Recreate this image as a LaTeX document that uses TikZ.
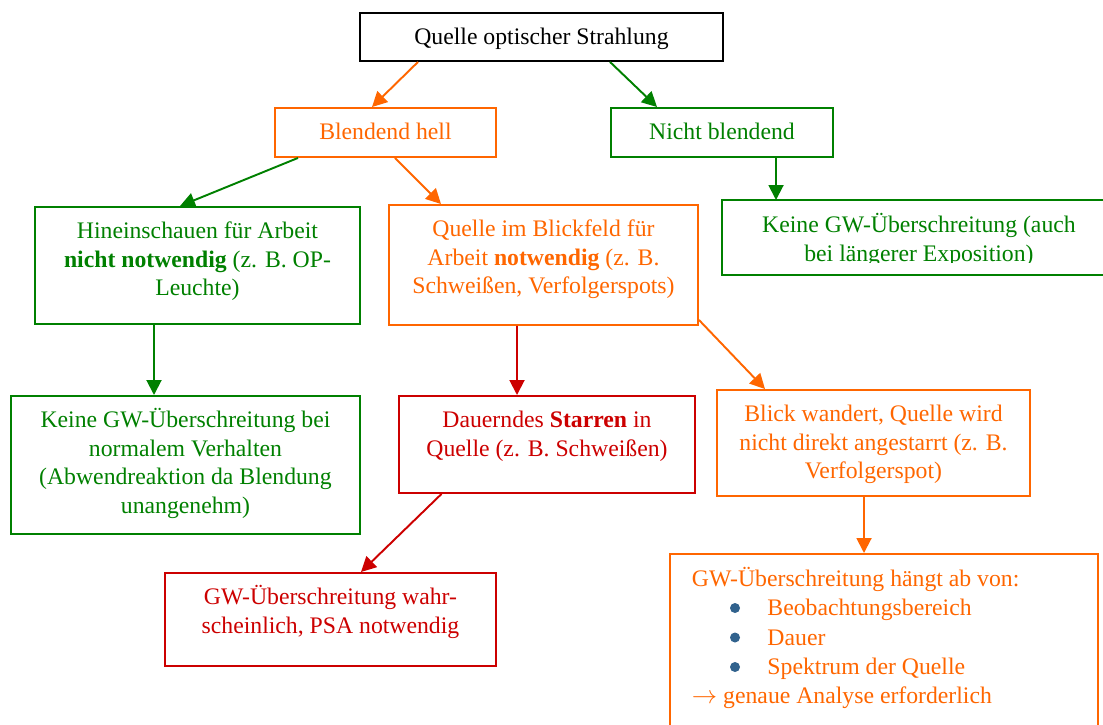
\documentclass[tikz,border=0pt]{standalone}
\usepackage{fontspec}
\setmainfont{Liberation Serif}
\usetikzlibrary{arrows.meta}

\definecolor{orangeton}{RGB}{255,102,0}
\definecolor{gruenton}{RGB}{0,128,0}
\definecolor{rotton}{RGB}{204,0,0}
\definecolor{punktblau}{RGB}{49,98,141}

% text box: width, height, text (first baseline fixed below the top edge)
\newcommand{\kastentext}[3]{\parbox[t][#2][t]{#1}{\lineskiplimit=-10pt\centering\rule{0pt}{18.1pt}#3}}
\newcommand{\einzug}{\hspace*{1.95cm}}

\tikzset{
    kasten/.style={draw, line width=1.1pt, inner sep=0pt, anchor=north west,
        font=\fontsize{13.5}{16.2}\selectfont},
    pfeil/.style={-{Triangle[length=0.3cm,width=0.3cm]}, line width=1.1pt}
}

\begin{document}
\begin{tikzpicture}
        \useasboundingbox (0,0) rectangle (22.06,-14.48);
        \clip (0,0) rectangle (22.06,-14.48);

        \node[kasten,draw=black] (quelle) at (7.18,-0.24) {\kastentext{7.26cm}{0.96cm}{Quelle optischer Strahlung}};
        \node[kasten,draw=orangeton,text=orangeton] (blendend) at (5.48,-2.14) {\kastentext{4.42cm}{0.98cm}{Blendend hell}};
        \node[kasten,draw=gruenton,text=gruenton] (nicht) at (12.2,-2.14) {\kastentext{4.44cm}{0.98cm}{Nicht blendend}};

        \node[kasten,draw=gruenton,text=gruenton] (hinein) at (0.68,-4.12) {\kastentext{6.5cm}{2.34cm}{Hineinschauen für Arbeit\\\textbf{nicht notwendig} (z. B. OP-\\Leuchte)}};
        \node[kasten,draw=orangeton,text=orangeton] (blickfeld) at (7.76,-4.08) {\kastentext{6.18cm}{2.4cm}{Quelle im Blickfeld für\\Arbeit \textbf{notwendig} (z. B.\\Schweißen, Verfolgerspots)}};
        % text of this box is cut off at the second line
        \begin{scope}
            \clip (14.44,-4.0) rectangle (22.28,-5.24);
            \node[kasten,draw=none,text=gruenton] (keine1) at (14.44,-4.0) {\kastentext{7.84cm}{1.46cm}{Keine GW-Überschreitung (auch\\bei längerer Exposition)}};
        \end{scope}
        \draw[gruenton,line width=1.1pt] (keine1.north west) rectangle (keine1.south east);

        \node[kasten,draw=gruenton,text=gruenton] (keine2) at (0.2,-7.9) {\kastentext{6.98cm}{2.76cm}{Keine GW-Überschreitung bei\\normalem Verhalten\\(Abwendreaktion da Blendung\\unangenehm)}};
        \node[kasten,draw=rotton,text=rotton] (dauernd) at (7.96,-7.9) {\kastentext{5.92cm}{1.94cm}{Dauerndes \textbf{Starren} in\\Quelle (z. B. Schweißen)}};
        \node[kasten,draw=orangeton,text=orangeton] (blick) at (14.32,-7.78) {\kastentext{6.26cm}{2.12cm}{Blick wandert, Quelle wird\\nicht direkt angestarrt (z. B.\\Verfolgerspot)}};

        \node[kasten,draw=rotton,text=rotton] (wahr) at (3.28,-11.44) {\kastentext{6.62cm}{1.86cm}{GW-Überschreitung wahr-\\scheinlich, PSA notwendig}};
        \node[kasten,draw=orangeton,text=orangeton] (haengt) at (13.38,-11.06) {\parbox[t][4cm][t]{8.56cm}{\fontsize{13.5}{16.6}\selectfont\lineskiplimit=-10pt\raggedright\rule{0pt}{18.6pt}%
            \hspace*{0.44cm}GW-Überschreitung hängt ab von:\\
            \einzug Beobachtungsbereich\\
            \einzug Dauer\\
            \einzug Spektrum der Quelle\\
            \hspace*{0.44cm}$\rightarrow$ genaue Analyse erforderlich}};
        % list bullets
        \foreach \dy in {1.1,1.69,2.28}
            \fill[punktblau] ([xshift=1.32cm,yshift=-\dy cm]haengt.north west) circle (0.1cm);

        \draw[pfeil,orangeton] ([xshift=1.18cm]quelle.south west) -- ([xshift=1.96cm]blendend.north west);
        \draw[pfeil,gruenton] ([xshift=5.02cm]quelle.south west) -- ([xshift=0.94cm]nicht.north west);
        \draw[pfeil,gruenton] ([xshift=0.48cm]blendend.south west) -- ([xshift=2.92cm]hinein.north west);
        \draw[pfeil,orangeton] ([xshift=2.42cm]blendend.south west) -- ([xshift=1.06cm]blickfeld.north west);
        \draw[pfeil,gruenton] ([xshift=3.32cm]nicht.south west) -- ([xshift=1.08cm]keine1.north west);
        \draw[pfeil,gruenton] ([xshift=2.4cm]hinein.south west) -- ([xshift=2.88cm]keine2.north west);
        \draw[pfeil,rotton] ([xshift=2.58cm]blickfeld.south west) -- ([xshift=2.38cm]dauernd.north west);
        \draw[pfeil,orangeton] ([yshift=0.12cm]blickfeld.south east) -- ([xshift=0.98cm]blick.north west);
        \draw[pfeil,rotton] ([xshift=0.87cm]dauernd.south west) -- ([xshift=3.94cm]wahr.north west);
        \draw[pfeil,orangeton] ([xshift=2.96cm]blick.south west) -- ([xshift=3.9cm]haengt.north west);
    \end{tikzpicture}
\end{document}
